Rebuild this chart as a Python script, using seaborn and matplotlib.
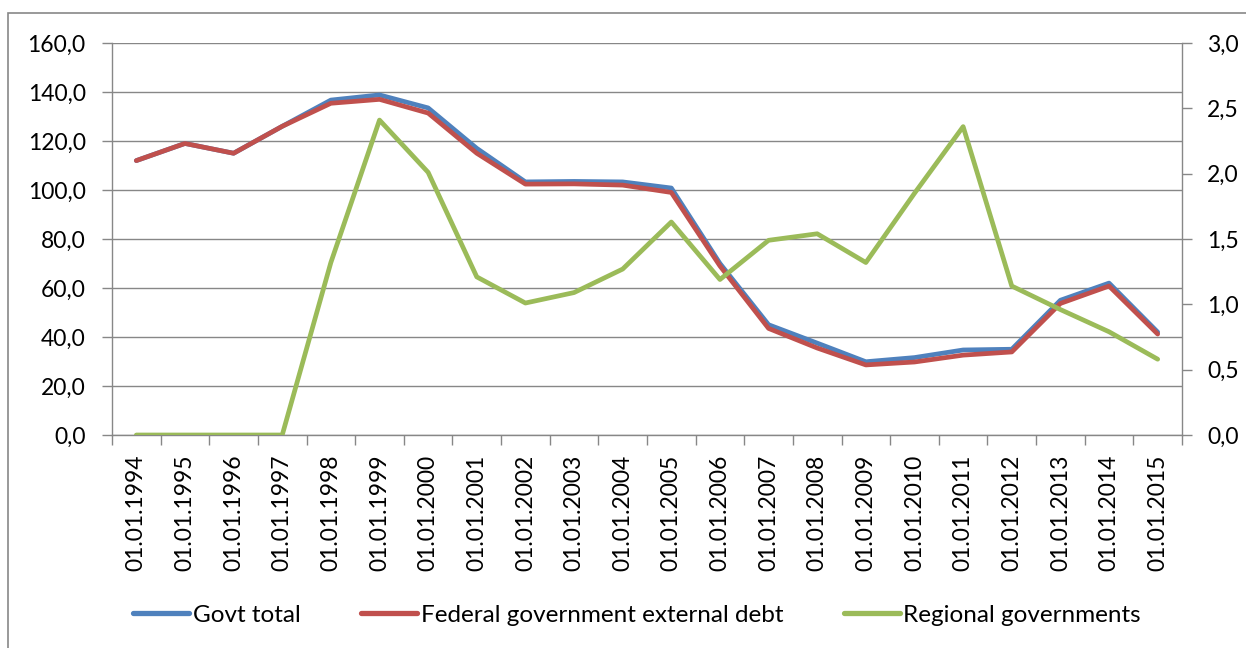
import matplotlib
matplotlib.use("Agg")
import matplotlib.pyplot as plt
import seaborn as sns
import pandas as pd
from matplotlib.lines import Line2D
from matplotlib.patches import Rectangle
from matplotlib.ticker import MultipleLocator, FixedLocator, FuncFormatter

# Debt series by reporting date
dates = ["01.01.1994", "01.01.1995", "01.01.1996", "01.01.1997", "01.01.1998",
         "01.01.1999", "01.01.2000", "01.01.2001", "01.01.2002", "01.01.2003",
         "01.01.2004", "01.01.2005", "01.01.2006", "01.01.2007", "01.01.2008",
         "01.01.2009", "01.01.2010", "01.01.2011", "01.01.2012", "01.01.2013",
         "01.01.2014", "01.01.2015"]
govt_total = [112.0, 119.0, 115.0, 126.0, 136.7, 138.8, 133.5, 117.0, 103.3, 103.5,
              103.3, 100.8, 70.0, 45.0, 37.5, 29.9, 31.6, 34.7, 35.0, 55.0,
              62.0, 42.0]
federal_external = [112.0, 119.0, 115.0, 126.0, 135.4, 137.0, 131.4, 115.0, 102.4, 102.5,
                    102.0, 99.0, 69.0, 43.5, 35.5, 28.6, 29.8, 32.6, 33.9, 53.7,
                    60.8, 41.2]
regional = [0.0, 0.0, 0.0, 0.0, 1.32, 2.41, 2.01, 1.21, 1.01, 1.09,
            1.27, 1.63, 1.19, 1.49, 1.54, 1.32, 1.85, 2.36, 1.14, 0.96,
            0.79, 0.58]

labels = ["Govt total", "Federal government external debt", "Regional governments"]
colors = ["#4F81BD", "#C0504D", "#9BBB59"]

df = pd.DataFrame({"date": dates, "idx": range(len(dates)),
                   "govt": govt_total, "fed": federal_external, "reg": regional})

grid_c = "#878787"
fs = 16.5

sns.set_theme(style="white")
plt.rcParams.update({
    "font.family": ["Lato", "DejaVu Sans"],
    "text.color": "black",
    "xtick.color": grid_c, "ytick.color": grid_c,
    "xtick.labelcolor": "black", "ytick.labelcolor": "black",
    "xtick.major.size": 7, "ytick.major.size": 7,
    "xtick.minor.size": 7,
    "xtick.major.width": 1, "ytick.major.width": 1, "xtick.minor.width": 1,
    "xtick.direction": "out", "ytick.direction": "out",
    "ytick.major.pad": 12,
    "xtick.labelsize": fs, "ytick.labelsize": fs,
    "xtick.bottom": True, "ytick.left": True, "ytick.right": True,
})

W, H = 1246, 648
fig = plt.figure(figsize=(W / 100, H / 100), dpi=100)
ax = fig.add_axes([112 / W, 1 - 435 / H, (1182 - 112) / W, (435 - 43) / H])
ax2 = ax.twinx()

lw = 3.4
sns.lineplot(data=df, x="idx", y="govt", ax=ax, color=colors[0], lw=lw, legend=False)
sns.lineplot(data=df, x="idx", y="fed", ax=ax, color=colors[1], lw=lw, legend=False)
sns.lineplot(data=df, x="idx", y="reg", ax=ax2, color=colors[2], lw=lw, legend=False)

ax.set_xlim(-0.5, len(dates) - 0.5)
ax.set_ylim(0, 160)
ax2.set_ylim(0, 3)

ax.yaxis.set_major_locator(MultipleLocator(20))
ax2.yaxis.set_major_locator(MultipleLocator(0.5))
fmt = FuncFormatter(lambda v, p: f"{v:.1f}".replace(".", ","))
ax.yaxis.set_major_formatter(fmt)
ax2.yaxis.set_major_formatter(fmt)

ax.set_xticks(range(len(dates)))
ax.set_xticklabels(dates, rotation=90)
ax.xaxis.set_minor_locator(FixedLocator([i - 0.5 for i in range(len(dates) + 1)]))
ax.tick_params(axis="x", which="major", length=0, pad=14)
ax.tick_params(axis="x", which="minor", length=7, width=1, color=grid_c, bottom=True)
ax.tick_params(axis="y", which="major", left=True, right=False, labelright=False)

ax.grid(axis="y", color=grid_c, lw=1)
ax.grid(axis="x", visible=False)
ax2.grid(False)
for a in (ax, ax2):
    a.set_xlabel("")
    a.set_ylabel("")
    for s in a.spines.values():
        s.set_visible(False)
ax.spines["left"].set_visible(True)
ax.spines["bottom"].set_visible(True)
ax2.spines["right"].set_visible(True)
for s in (ax.spines["left"], ax.spines["bottom"], ax2.spines["right"]):
    s.set_color(grid_c)
    s.set_linewidth(1)

# right-hand scale: outward ticks, labels set off from the spine
ax2.tick_params(axis="y", which="major", length=7, width=1, color=grid_c, pad=11,
                direction="out", right=True, labelright=True, left=False,
                labelleft=False, labelsize=fs, labelcolor="black")

# chart border
fig.patches.append(Rectangle((8 / W, -0.1), 1.1, 1 - 13 / H + 0.1, transform=fig.transFigure,
                             fill=False, edgecolor=grid_c, lw=1.2))

handles = [Line2D([], [], color=c, lw=lw + 0.4) for c in colors]
fig.legend(handles, labels, loc="center", bbox_to_anchor=(637 / W, 1 - 615 / H), ncol=3,
           frameon=False, handlelength=2.3, handletextpad=0.15, columnspacing=2.5,
           prop={"family": ["Lato", "DejaVu Sans"], "size": 17.5})

fig.savefig("out.png", dpi=100)
